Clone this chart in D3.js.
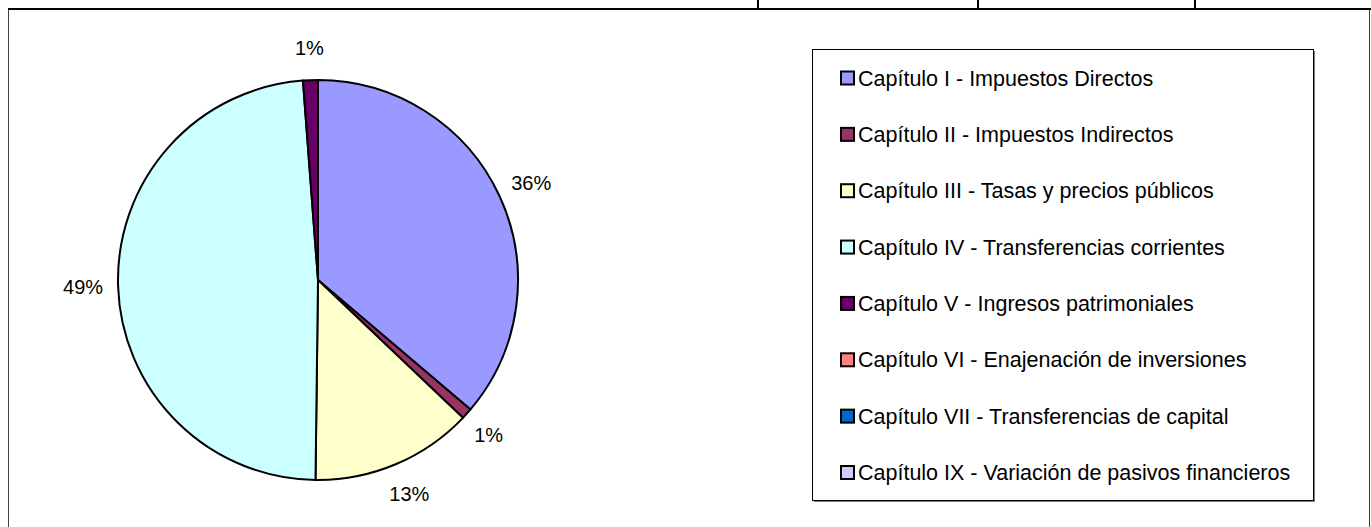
<!DOCTYPE html>
<html>
<head>
<meta charset="utf-8">
<script src="https://cdn.jsdelivr.net/npm/d3@7"></script>
<style>
body{margin:0;background:#fff;}
text{font-family:"Liberation Sans", Arial, sans-serif;fill:#000;}
</style>
</head>
<body>
<div id="chart"></div>
<script>
// capitulos de ingresos (porcentaje del total)
var capitulos=["Capítulo I - Impuestos Directos","Capítulo II - Impuestos Indirectos","Capítulo III - Tasas y precios públicos","Capítulo IV - Transferencias corrientes","Capítulo V - Ingresos patrimoniales","Capítulo VI - Enajenación de inversiones","Capítulo VII - Transferencias de capital","Capítulo IX - Variación de pasivos financieros"]
var valores=[36.2, 0.9, 13.1, 48.6, 1.2, 0, 0, 0]
var colores=["#9999FF","#993366","#FFFFCC","#CCFFFF","#660066","#FF8080","#0066CC","#CCCCFF"]

var svgWidth=1371
var svgHeight=527

var svg=d3.select("#chart")
        .append("svg")
        .attr("width", svgWidth)
        .attr("height", svgHeight)

// marco del grafico y lineas de la tabla de arriba
svg.append("rect")
    .attr("x", 8.5).attr("y", 9.5)
    .attr("width", 1361).attr("height", 540)
    .attr("fill", "none").attr("stroke", "#404040").attr("stroke-width", 1)
svg.append("line")
    .attr("x1", 8).attr("x2", svgWidth).attr("y1", 9).attr("y2", 9)
    .attr("stroke", "#000").attr("stroke-width", 2)
;[758, 978, 1195].forEach(x=>{
    svg.append("line").attr("x1", x).attr("x2", x).attr("y1", 0).attr("y2", 9)
        .attr("stroke", "#000").attr("stroke-width", 2)
})

var cx=318, cy=280, radius=200
var total=d3.sum(valores)

var pie=d3.pie().value(d=>d).sort(null)
var arc=d3.arc().innerRadius(0).outerRadius(radius)
var arcs=pie(valores)

var pieGroup=svg.append("g").attr("transform", `translate(${cx}, ${cy})`)

pieGroup.selectAll("path")
    .data(arcs.filter(d=>d.value>0))
    .enter()
    .append("path")
    .attr("d", arc)
    .attr("fill", d=>colores[d.index])
    .attr("stroke", "#000")
    .attr("stroke-width", 2)
    .attr("stroke-linejoin", "round")

var fmt=d3.format(".0%")

pieGroup.selectAll("text")
    .data(arcs.filter(d=>d.value>0))
    .enter()
    .append("text")
    .text(d=>fmt(d.value/total))
    .attr("font-size", 20)
    .attr("text-anchor", "middle")
    .attr("dy", "0.35em")
    .each(function(d){
        var a=(d.startAngle+d.endAngle)/2
        var w=this.getComputedTextLength()/2
        var x=Math.sin(a)*(radius+15+w)
        var y=-Math.cos(a)*(radius+32)
        d3.select(this).attr("x", x).attr("y", y)
    })

// leyenda
var legX=812, legY=49, legW=501, legH=451
svg.append("rect")
    .attr("x", legX+2).attr("y", legY+2).attr("width", legW).attr("height", legH)
    .attr("fill", "#808080")
svg.append("rect")
    .attr("x", legX+0.5).attr("y", legY+0.5).attr("width", legW).attr("height", legH)
    .attr("fill", "#fff").attr("stroke", "#000").attr("stroke-width", 1)

var legendScale=d3.scalePoint()
    .domain(capitulos)
    .range([78, 472.5])

var legendItems=svg.selectAll(".leg")
    .data(capitulos)
    .enter()
    .append("g")
    .attr("class", "leg")
    .attr("transform", d=>`translate(0, ${legendScale(d)})`)

legendItems.append("rect")
    .attr("x", 841).attr("y", -6.5)
    .attr("width", 13).attr("height", 13)
    .attr("fill", (d,i)=>colores[i])
    .attr("stroke", "#000").attr("stroke-width", 2)

legendItems.append("text")
    .attr("x", 858)
    .attr("dy", "0.35em")
    .attr("font-size", 21.5)
    .text(d=>d)
</script>
</body>
</html>
